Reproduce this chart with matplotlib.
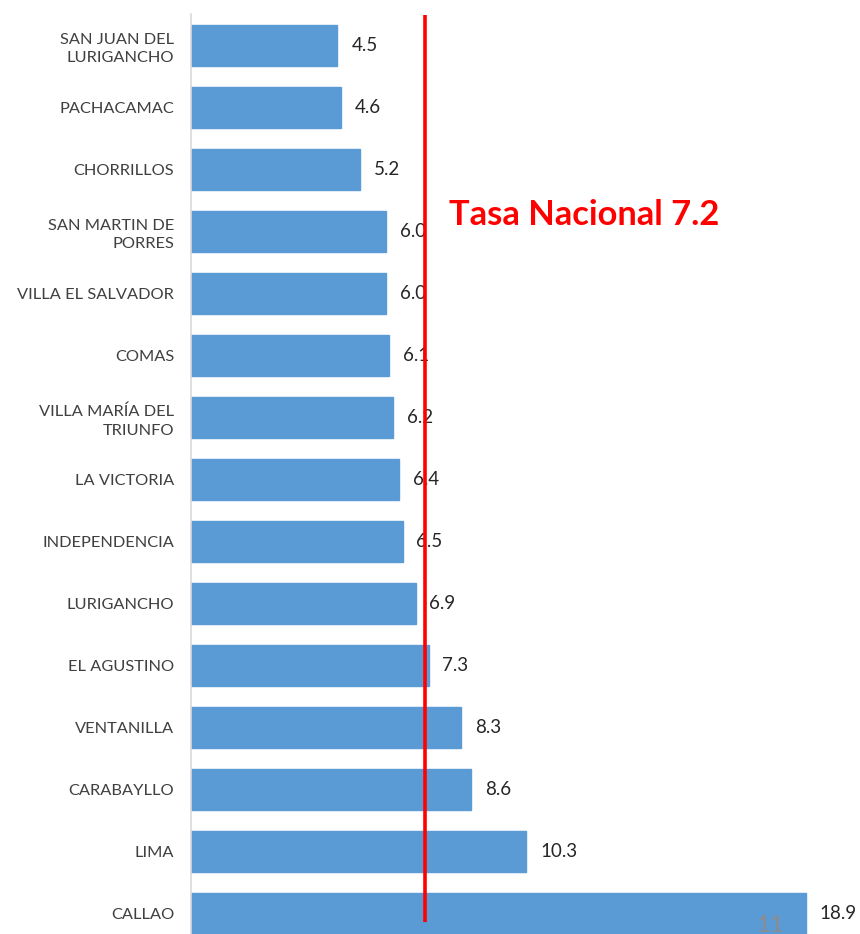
import matplotlib
matplotlib.use("Agg")
import matplotlib.pyplot as plt

categories = ["SAN JUAN DEL\nLURIGANCHO", "PACHACAMAC", "CHORRILLOS", "SAN MARTIN DE\nPORRES",
              "VILLA EL SALVADOR", "COMAS", "VILLA MARÍA DEL\nTRIUNFO", "LA VICTORIA",
              "INDEPENDENCIA", "LURIGANCHO", "EL AGUSTINO", "VENTANILLA", "CARABAYLLO",
              "LIMA", "CALLAO"]
values = [4.5, 4.6, 5.2, 6.0, 6.0, 6.1, 6.2, 6.4, 6.5, 6.9, 7.3, 8.3, 8.6, 10.3, 18.9]
value_labels = ["4.5", "4.6", "5.2", "6.0", "6.0", "6.1", "6.2", "6.4", "6.5", "6.9", "7.3",
                "8.3", "8.6", "10.3", "18.9"]
national_rate = 7.2
national_label = "Tasa Nacional 7.2"

W, H = 860, 934
fig = plt.figure(figsize=(W / 100, H / 100), dpi=100)
top_px, bot_px = 14, 945
left_px = 191
xmax = 20
px_per_unit = 32.54
ax = fig.add_axes([left_px / W, (H - bot_px) / H, xmax * px_per_unit / W, (bot_px - top_px) / H])

y = list(range(len(categories)))
ax.barh(y, values, height=0.66, color="#5B9BD5", edgecolor="#5B9BD5", zorder=2)
ax.set_ylim(len(categories) - 0.5, -0.5)
ax.set_xlim(0, xmax)
ax.set_yticks(y)
ax.set_yticklabels(categories, fontsize=11.8, color="#404040", family="Lato", linespacing=1.4)
ax.tick_params(axis="y", length=0, pad=12)
ax.set_xticks([])
for s in ["top", "right", "bottom"]:
    ax.spines[s].set_visible(False)
ax.spines["left"].set_color("#d9d9d9")
ax.spines["left"].set_linewidth(1.2)

for yi, v, lab in zip(y, values, value_labels):
    ax.annotate(lab, (v, yi), xytext=(10, 0), textcoords="offset points",
                ha="left", va="center", fontsize=13.5, color="#262626", family="Lato", zorder=3)

ax.plot([national_rate, national_rate], [-0.48, 14.13], color="#ff0000", lw=2.6, zorder=4,
        solid_capstyle="butt")
ax.text(national_rate + 0.72, 2.74, national_label, color="#ff0000", fontsize=24.8,
        fontweight="bold", family="Lato", ha="left", va="center")

fig.text(770 / W, 1 - 925 / H, "11", color="#8c8c8c", fontsize=17, family="Lato",
         ha="center", va="center")

fig.savefig("out.png", dpi=100)
